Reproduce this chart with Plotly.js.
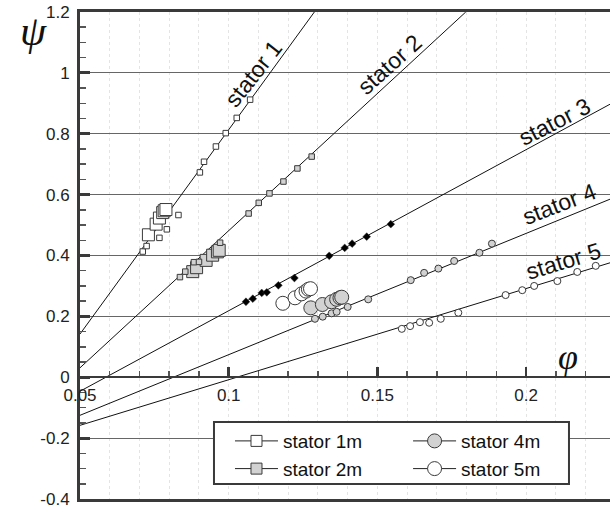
<!DOCTYPE html>
<html>
<head>
<meta charset="utf-8">
<script src="https://cdn.plot.ly/plotly-3.0.1.min.js"></script>
<style>html,body{margin:0;padding:0;background:#fff;}#chart{width:610px;height:514px;}</style>
</head>
<body>
<div id="chart"></div>
<script>
// ---- data ----
// small markers (measured points) per stator
const s1Phi = [0.0711, 0.0724, 0.0767, 0.0792, 0.0831, 0.0903, 0.0917, 0.0957, 0.0990, 0.1027, 0.1072];
const s1Psi = [0.413, 0.431, 0.458, 0.486, 0.533, 0.673, 0.708, 0.758, 0.802, 0.852, 0.912];
const s2Phi = [0.0836, 0.0854, 0.0883, 0.0900, 0.0971, 0.1067, 0.1101, 0.1137, 0.1184, 0.1231, 0.1279];
const s2Psi = [0.329, 0.347, 0.378, 0.379, 0.442, 0.538, 0.573, 0.604, 0.643, 0.686, 0.725];
const s3Phi = [0.1058, 0.1081, 0.1111, 0.1128, 0.1167, 0.1221, 0.1338, 0.1390, 0.1415, 0.1464, 0.1545];
const s3Psi = [0.248, 0.258, 0.277, 0.279, 0.302, 0.326, 0.399, 0.425, 0.439, 0.462, 0.503];
const s4Phi = [0.1290, 0.1316, 0.1346, 0.1363, 0.1400, 0.1469, 0.1612, 0.1657, 0.1705, 0.1758, 0.1843, 0.1885];
const s4Psi = [0.192, 0.199, 0.210, 0.215, 0.231, 0.256, 0.319, 0.343, 0.357, 0.382, 0.409, 0.439];
const s5Phi = [0.1582, 0.1610, 0.1643, 0.1674, 0.1713, 0.1772, 0.1931, 0.1987, 0.2027, 0.2105, 0.2172, 0.2234];
const s5Psi = [0.159, 0.168, 0.181, 0.179, 0.192, 0.212, 0.270, 0.286, 0.300, 0.316, 0.346, 0.366];
// large markers ("m" series)
const s1mPhi = [0.0730, 0.0756, 0.0767, 0.0778, 0.0783, 0.0789];
const s1mPsi = [0.468, 0.503, 0.523, 0.541, 0.547, 0.551];
const s2mPhi = [0.0879, 0.0892, 0.0924, 0.0946, 0.0962, 0.0968];
const s2mPsi = [0.347, 0.360, 0.384, 0.401, 0.412, 0.417];
const s4mPhi = [0.1276, 0.1315, 0.1346, 0.1363, 0.1374, 0.1380];
const s4mPsi = [0.228, 0.239, 0.248, 0.256, 0.261, 0.263];
const s5mPhi = [0.1182, 0.1223, 0.1245, 0.1260, 0.1268, 0.1275];
const s5mPsi = [0.243, 0.261, 0.274, 0.283, 0.289, 0.291];
// fitted lines (end points)
const fit1Phi = [0.05, 0.1288], fit1Psi = [0.142, 1.2];
const fit2Phi = [0.05, 0.1797], fit2Psi = [0.031, 1.2];
const fit3Phi = [0.05, 0.2282], fit3Psi = [-0.046, 0.897];
const fit4Phi = [0.05, 0.2282], fit4Psi = [-0.125, 0.585];
const fit5Phi = [0.05, 0.2282], fit5Psi = [-0.158, 0.376];
// labels
const lineLabels = ['stator 1', 'stator 2', 'stator 3', 'stator 4', 'stator 5'];
const labelPhi = [0.1082, 0.1542, 0.2094, 0.2111, 0.2127];
const labelPsi = [0.997, 1.030, 0.840, 0.569, 0.382];
const legendNames = ['stator 1m', 'stator 2m', 'stator 4m', 'stator 5m'];
const yTickVals = [-0.4, -0.2, 0, 0.2, 0.4, 0.6, 0.8, 1, 1.2];
const yTickText = ['-0.4', '-0.2', '0', '0.2', '0.4', '0.6', '0.8', '1', '1.2'];
const xTickVals = [0.05, 0.1, 0.15, 0.2];
const xTickText = ['0.05', '0.1', '0.15', '0.2'];

const FONT = 'Liberation Sans, Arial, sans-serif';
const GRAY = '#d2d2d2';
const EDGE = '#3a3a3a';

const traces = [];
[[fit1Phi, fit1Psi], [fit2Phi, fit2Psi], [fit3Phi, fit3Psi], [fit4Phi, fit4Psi], [fit5Phi, fit5Psi]].forEach(function (f) {
  traces.push({x: f[0], y: f[1], mode: 'lines', line: {color: '#111', width: 1}, showlegend: false, hoverinfo: 'skip'});
});
function mk(x, y, symbol, size, fill, lw) {
  return {x: x, y: y, mode: 'markers', showlegend: false,
    marker: {symbol: symbol, size: size, color: fill, line: {color: EDGE, width: lw}}};
}
traces.push(mk(s1mPhi, s1mPsi, 'square', 12, '#ffffff', 1));
traces.push(mk(s2mPhi, s2mPsi, 'square', 12, GRAY, 1));
traces.push(mk(s5mPhi, s5mPsi, 'circle', 14, '#ffffff', 1));
traces.push(mk(s4mPhi, s4mPsi, 'circle', 14, GRAY, 1));
traces.push(mk(s1Phi, s1Psi, 'square', 5.5, '#ffffff', 1));
traces.push(mk(s2Phi, s2Psi, 'square', 5.5, GRAY, 1));
traces.push(mk(s3Phi, s3Psi, 'diamond', 6, '#000000', 0.5));
traces.push(mk(s4Phi, s4Psi, 'circle', 7, GRAY, 1));
traces.push(mk(s5Phi, s5Psi, 'circle', 7, '#ffffff', 1));
// empty trace so the axis through psi = 0 gets drawn
traces.push({x: [null], y: [null], xaxis: 'x2', yaxis: 'y', mode: 'markers', showlegend: false, hoverinfo: 'skip'});

// legend entries
const legSym = ['square', 'square', 'circle', 'circle'];
const legFill = ['#ffffff', GRAY, GRAY, '#ffffff'];
const legSize = [11, 11, 14, 14];
const legWhich = ['legend', 'legend', 'legend2', 'legend2'];
legendNames.forEach(function (n, i) {
  traces.push({x: [null], y: [null], name: n, mode: 'lines+markers', legend: legWhich[i],
    line: {color: '#222', width: 1},
    marker: {symbol: legSym[i], size: legSize[i], color: legFill[i], line: {color: EDGE, width: 1}}});
});

const annotations = lineLabels.map(function (t, i) {
  const ang = [-52, -42, -27, -21, -17][i];
  return {x: labelPhi[i], y: labelPsi[i], xref: 'x', yref: 'y', text: t, showarrow: false,
    xanchor: 'center', yanchor: 'middle',
    textangle: ang, font: {family: FONT, size: 23, color: '#111'}};
});
annotations.push({x: -0.087, y: 0.962, xref: 'paper', yref: 'paper', text: 'ψ', showarrow: false,
  xanchor: 'center', yanchor: 'middle',
  font: {family: 'Liberation Serif, serif', size: 42, color: '#111', style: 'italic'}});
annotations.push({x: 0.921, y: 0.2925, xref: 'paper', yref: 'paper', text: 'φ', showarrow: false,
  xanchor: 'center', yanchor: 'middle',
  font: {family: 'Liberation Serif, serif', size: 36, color: '#111', style: 'italic'}});

const layout = {
  width: 610, height: 514,
  margin: {l: 80, r: 0, t: 12, b: 15},
  paper_bgcolor: '#fff', plot_bgcolor: '#fff',
  font: {family: FONT, size: 17, color: '#222'},
  xaxis: {range: [0.05, 0.2282], showline: true, mirror: true, linewidth: 3, linecolor: EDGE,
    ticks: '', showticklabels: false, tick0: 0.05, dtick: 0.01,
    showgrid: true, gridcolor: '#e4e4e4', griddash: 'dot', gridwidth: 1, zeroline: false, fixedrange: true},
  xaxis2: {range: [0.05, 0.2282], overlaying: 'x', anchor: 'free', position: 0.25, side: 'bottom',
    showline: true, linewidth: 2, linecolor: EDGE, showgrid: false, zeroline: false,
    tickmode: 'array', tickvals: xTickVals, ticktext: xTickText, ticklabelstandoff: 2,
    ticks: 'inside', ticklen: 9, tickwidth: 2.5, tickcolor: EDGE,
    minor: {tickmode: 'linear', tick0: 0.05, dtick: 0.01, ticks: 'inside', ticklen: 5, tickwidth: 1.5, tickcolor: '#555'},
    tickfont: {family: FONT, size: 17, color: '#222'}, fixedrange: true},
  yaxis: {range: [-0.4, 1.2], showline: true, mirror: false, linewidth: 3, linecolor: EDGE,
    tickmode: 'array', tickvals: yTickVals, ticktext: yTickText,
    ticks: 'inside', ticklen: 10, tickwidth: 3, tickcolor: EDGE, ticklabelstandoff: 4,
    minor: {tickmode: 'linear', tick0: 0, dtick: 0.05, ticks: 'inside', ticklen: 6, tickwidth: 1.5, tickcolor: '#555'},
    showgrid: true, gridcolor: '#666', gridwidth: 1.2, zeroline: false,
    tickfont: {family: FONT, size: 17, color: '#222'}, fixedrange: true},
  legend: {x: 0.283, y: 0.158, xanchor: 'left', yanchor: 'top', bgcolor: 'rgba(0,0,0,0)', borderwidth: 0,
    itemwidth: 43, font: {family: FONT, size: 19, color: '#111'}, tracegroupgap: 0},
  legend2: {x: 0.619, y: 0.158, xanchor: 'left', yanchor: 'top', bgcolor: 'rgba(0,0,0,0)', borderwidth: 0,
    itemwidth: 43, font: {family: FONT, size: 19, color: '#111'}, tracegroupgap: 0},
  shapes: [{type: 'rect', xref: 'paper', yref: 'paper', x0: 0.2528, x1: 0.9226, y0: 0.0308, y1: 0.158,
    layer: 'above', fillcolor: '#fff', line: {color: EDGE, width: 2}}],
  annotations: annotations,
  showlegend: true
};
Plotly.newPlot('chart', traces, layout, {staticPlot: true, displayModeBar: false});
</script>
</body>
</html>
